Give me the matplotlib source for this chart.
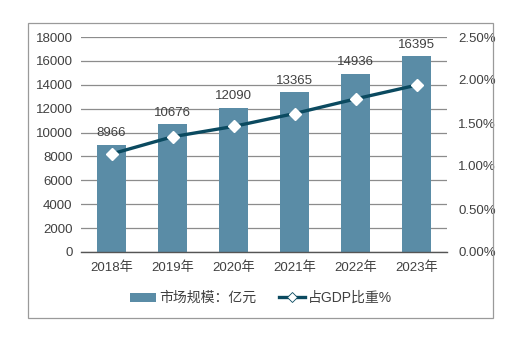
import matplotlib.pyplot as plt
from matplotlib.lines import Line2D
from matplotlib.patches import Patch, Rectangle
from matplotlib.ticker import FuncFormatter

plt.rcParams["font.family"] = ["Liberation Sans", "Noto Sans CJK SC", "DejaVu Sans"]

# data
years = ["2018年", "2019年", "2020年", "2021年", "2022年", "2023年"]
market_size = [8966, 10676, 12090, 13365, 14936, 16395]
gdp_share = [1.14, 1.34, 1.46, 1.61, 1.78, 1.94]
left_ticks = [0, 2000, 4000, 6000, 8000, 10000, 12000, 14000, 16000, 18000]
right_ticks = [0.0, 0.5, 1.0, 1.5, 2.0, 2.5]

bar_color = "#5a8ca6"
line_color = "#0b4a60"
grid_color = "#8c8c8c"
text_color = "#404040"

fig = plt.figure(figsize=(5.32, 3.40), dpi=100)

# outer frame of the chart area
fig.patches.append(Rectangle((28 / 532, 1 - 318 / 340), 465 / 532, 295 / 340,
                             transform=fig.transFigure, fill=False,
                             edgecolor="#9a9a9a", linewidth=0.9))

ax = fig.add_axes([81 / 532, 1 - 252 / 340, 366 / 532, 215 / 340])
x = list(range(len(years)))

ax.bar(x, market_size, width=0.49, color=bar_color, zorder=2)
for xi, v in zip(x, market_size):
    ax.annotate(str(v), (xi, v), xytext=(0, 4), textcoords="offset points",
                ha="center", va="bottom", fontsize=9.5, color=text_color)

ax.set_xlim(-0.5, len(years) - 0.5)
ax.set_ylim(0, 18000)
ax.set_yticks(left_ticks)
ax.set_xticks(x)
ax.set_xticklabels(years)
ax.yaxis.grid(True, color=grid_color, linewidth=0.9, zorder=0)
ax.set_axisbelow(True)
for side in ["top", "left", "right"]:
    ax.spines[side].set_visible(False)
ax.spines["bottom"].set_color("#555555")
ax.spines["bottom"].set_linewidth(1.0)
ax.tick_params(axis="both", length=0, labelsize=9.5, labelcolor=text_color)
ax.tick_params(axis="y", pad=6)
ax.tick_params(axis="x", pad=7)

ax2 = ax.twinx()
ax2.plot(x, gdp_share, color=line_color, linewidth=2.4, marker="D",
         markersize=6.5, markerfacecolor="white", markeredgecolor="white",
         zorder=3)
ax2.set_ylim(0, 2.5)
ax2.set_yticks(right_ticks)
ax2.yaxis.set_major_formatter(FuncFormatter(lambda v, _: f"{v:.2f}%"))
for side in ["top", "left", "right", "bottom"]:
    ax2.spines[side].set_visible(False)
ax2.tick_params(axis="y", length=0, labelsize=9.5, labelcolor=text_color, pad=8)

handles = [
    Patch(facecolor=bar_color, edgecolor="none"),
    Line2D([0], [0], color=line_color, linewidth=2.4, marker="D",
           markersize=5, markerfacecolor="white", markeredgecolor=line_color,
           markeredgewidth=0.6),
]
fig.legend(handles, ["市场规模：亿元", "占GDP比重%"], loc="center",
           bbox_to_anchor=(261 / 532, 1 - 298 / 340), ncol=2, frameon=False,
           fontsize=10, handlelength=1.9, handleheight=0.6, handletextpad=0.2,
           columnspacing=1.6, labelcolor=text_color)

fig.savefig("out.png", dpi=100)
